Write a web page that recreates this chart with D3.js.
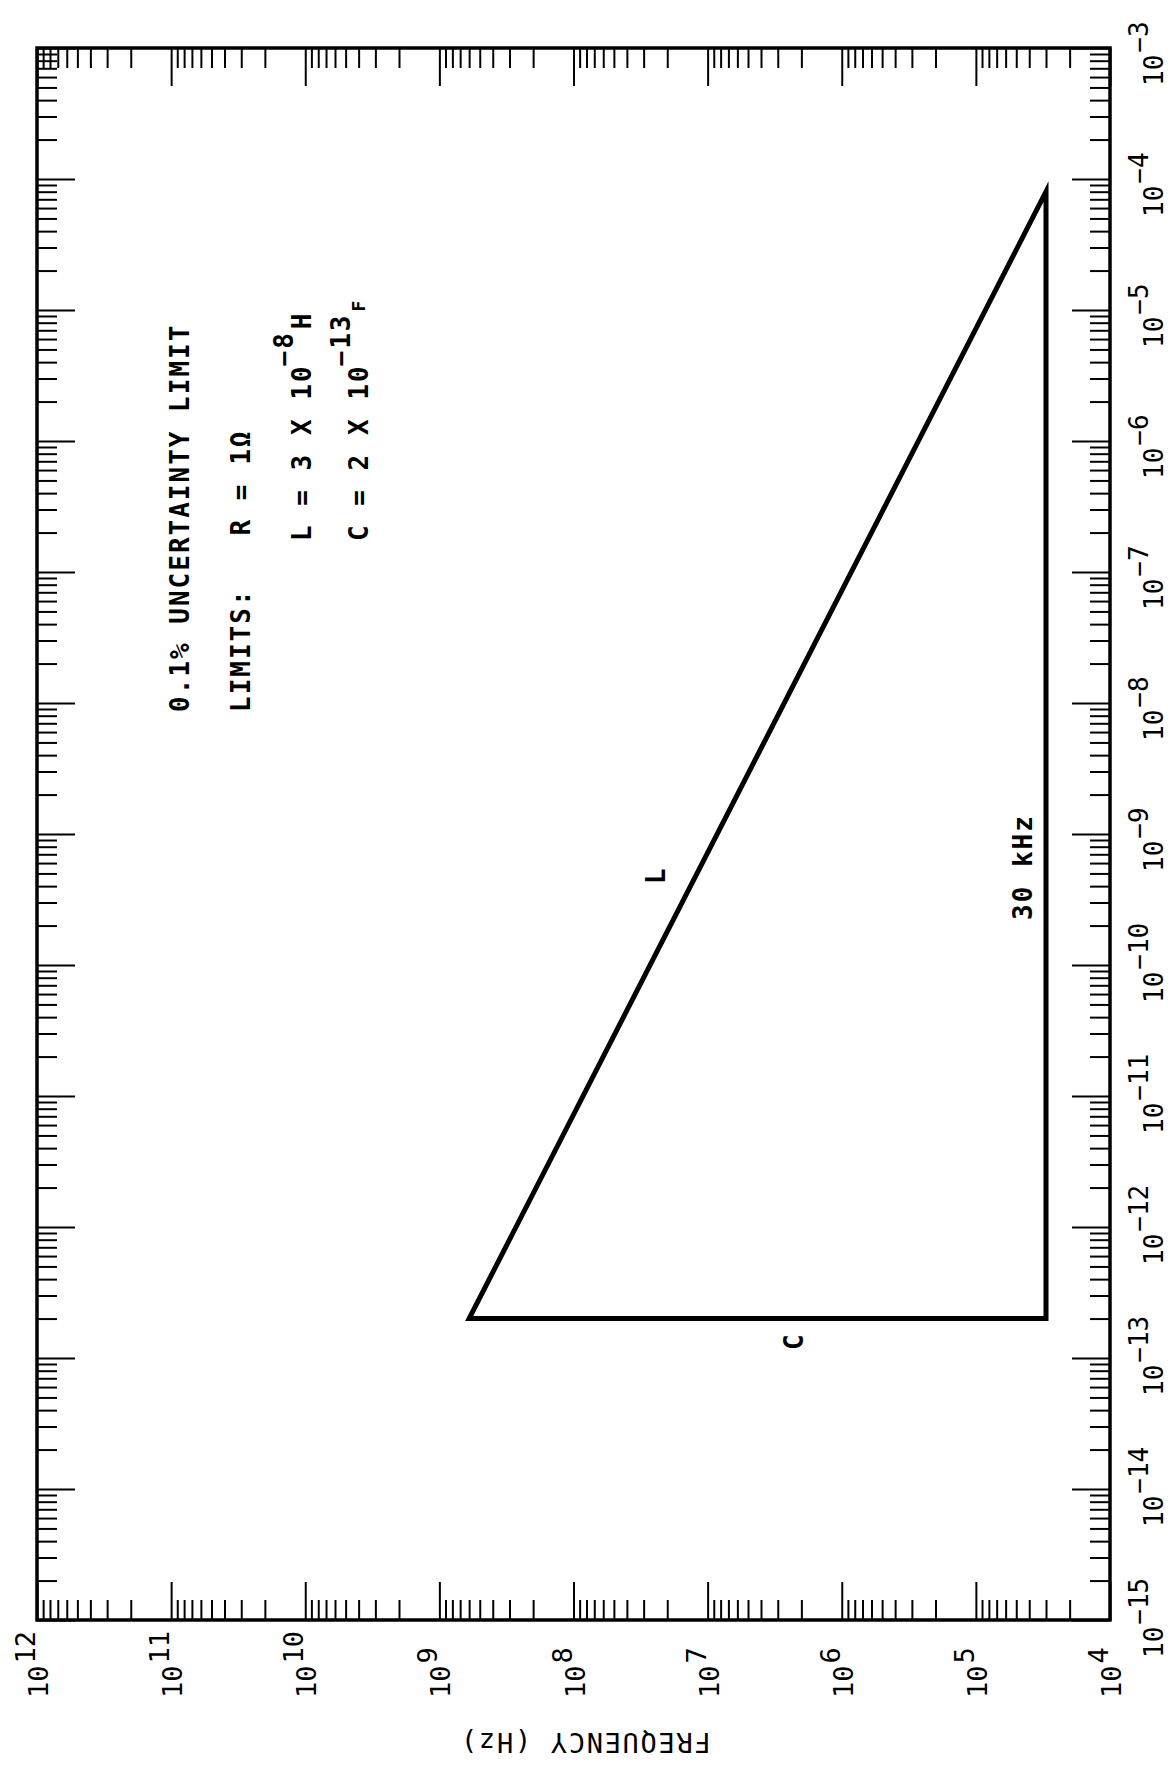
<!DOCTYPE html>
<html>
<head>
<meta charset="utf-8">
<script src="https://cdn.jsdelivr.net/npm/d3@7"></script>
<style>
  body { margin: 0; background: #fff; }
  text { font-family: "DejaVu Sans Mono", monospace; fill: #000; font-weight: bold; }
</style>
</head>
<body>
<div id="chart"></div>
<script>
// decades on the frequency axis (Hz) and on the L / C axis
var freqDecades = [1e4, 1e5, 1e6, 1e7, 1e8, 1e9, 1e10, 1e11, 1e12];
var freqExponents = ["4", "5", "6", "7", "8", "9", "10", "11", "12"];
var valueDecades = [1e-15, 1e-14, 1e-13, 1e-12, 1e-11, 1e-10, 1e-9, 1e-8, 1e-7, 1e-6, 1e-5, 1e-4, 1e-3];
var valueExponents = ["\u221215", "\u221214", "\u221213", "\u221212", "\u221211", "\u221210", "\u22129", "\u22128", "\u22127", "\u22126", "\u22125", "\u22124", "\u22123"];
var minorSteps = [2, 3, 4, 5, 6, 7, 8, 9];

// 0.1% uncertainty limit region: corners (frequency, value)
var limitFreq = [3e4, 6e8, 3e4];
var limitValue = [8e-5, 2e-13, 2e-13];

var W = 1168, H = 1771;
var plot = {left: 37, right: 1110, top: 48, bottom: 1620};

var svg = d3.select("#chart")
  .append("svg")
    .attr("width", W)
    .attr("height", H);

svg.append("rect")
  .attr("width", W).attr("height", H)
  .attr("fill", "#fff");

var x = d3.scaleLog()
  .domain([1e12, 1e4])
  .range([plot.left, plot.right]);

var y = d3.scaleLog()
  .domain([1e-3, 1e-15])
  .range([plot.top, plot.bottom]);

var minorFreq = [];
freqDecades.slice(0, -1).forEach(function(d) {
  minorSteps.forEach(function(m) { minorFreq.push(d * m); });
});
var minorValue = [];
valueDecades.slice(0, -1).forEach(function(d) {
  minorSteps.forEach(function(m) { minorValue.push(d * m); });
});

function tickStyle(g) {
  g.select(".domain").remove();
  g.selectAll("line").attr("stroke", "#000").attr("stroke-width", 2);
}

// ticks point inwards on all four sides
[[minorFreq, 20], [freqDecades, 38]].forEach(function(t) {
  svg.append("g")
    .attr("transform", "translate(0," + plot.bottom + ")")
    .call(d3.axisBottom(x).tickValues(t[0]).tickSize(-t[1]).tickFormat(""))
    .call(tickStyle);
  svg.append("g")
    .attr("transform", "translate(0," + plot.top + ")")
    .call(d3.axisTop(x).tickValues(t[0]).tickSize(-t[1]).tickFormat(""))
    .call(tickStyle);
});
[[minorValue, 20], [valueDecades, 38]].forEach(function(t) {
  svg.append("g")
    .attr("transform", "translate(" + plot.left + ",0)")
    .call(d3.axisLeft(y).tickValues(t[0]).tickSize(-t[1]).tickFormat(""))
    .call(tickStyle);
  svg.append("g")
    .attr("transform", "translate(" + plot.right + ",0)")
    .call(d3.axisRight(y).tickValues(t[0]).tickSize(-t[1]).tickFormat(""))
    .call(tickStyle);
});

// frame
svg.append("rect")
  .attr("x", plot.left).attr("y", plot.top)
  .attr("width", plot.right - plot.left).attr("height", plot.bottom - plot.top)
  .attr("fill", "none")
  .attr("stroke", "#000")
  .attr("stroke-width", 3.5);

// frequency tick labels (rotated)
svg.selectAll(".flab")
  .data(freqDecades)
  .enter()
  .append("text")
    .attr("class", "flab")
    .attr("transform", function(d) { return "translate(" + (x(d) + 11) + "," + (plot.bottom + 78) + ") rotate(-90)"; })
    .style("font-size", "27px")
    .style("font-weight", "normal")
    .each(function(d, i) {
      var t = d3.select(this);
      t.append("tspan").text("10");
      t.append("tspan").attr("dy", -13).attr("dx", 2).text(freqExponents[i]);
    });

// L / C tick labels on the right
svg.selectAll(".vlab")
  .data(valueDecades)
  .enter()
  .append("text")
    .attr("class", "vlab")
    .attr("transform", function(d) { return "translate(" + (plot.right + 53) + "," + (y(d) + 38) + ") rotate(-90)"; })
    .style("font-size", "26px")
    .style("font-weight", "normal")
    .each(function(d, i) {
      var t = d3.select(this);
      t.append("tspan").text("10");
      t.append("tspan").attr("dy", -15).attr("dx", 2).text(valueExponents[i]);
    });

// axis title, upside down
svg.append("text")
  .attr("transform", "translate(585,1733) rotate(180)")
  .style("font-size", "27px")
  .style("font-weight", "normal")
  .style("letter-spacing", "1.7px")
  .style("text-anchor", "middle")
  .text("FREQUENCY (Hz)");

// limit triangle
var pts = d3.zip(limitFreq, limitValue);
svg.append("path")
  .datum(pts)
  .attr("fill", "none")
  .attr("stroke", "#000")
  .attr("stroke-width", 5)
  .attr("stroke-linejoin", "miter")
  .attr("stroke-miterlimit", 10)
  .attr("d", d3.line()
    .x(function(d) { return x(d[0]); })
    .y(function(d) { return y(d[1]); })
    .curve(d3.curveLinearClosed));

// annotations
function note(px, py, size) {
  return svg.append("text")
    .attr("transform", "translate(" + px + "," + py + ") rotate(-90)")
    .style("font-size", (size || 26) + "px")
    .style("letter-spacing", "2px")
    .style("white-space", "pre");
}

note(189, 712).text("0.1% UNCERTAINTY LIMIT");
note(250, 712).text("LIMITS:   R = 1\u03A9");

var tL = note(311, 541);
tL.append("tspan").text("L = 3 X 10");
tL.append("tspan").attr("dy", -18).attr("dx", -2).text("\u22128");
tL.append("tspan").attr("dy", 18).attr("dx", 2).text("H");

var tC = note(368, 541);
tC.append("tspan").text("C = 2 X 10");
tC.append("tspan").attr("dy", -18).attr("dx", -2).text("\u221213");
tC.append("tspan").attr("dy", 15).attr("dx", 2).style("font-size", "18px").text("F");

note(x(3e4) - 14, 920).text("30 kHz");
note(665, 884).text("L");
note(803, 1350).text("C");
</script>
</body>
</html>
